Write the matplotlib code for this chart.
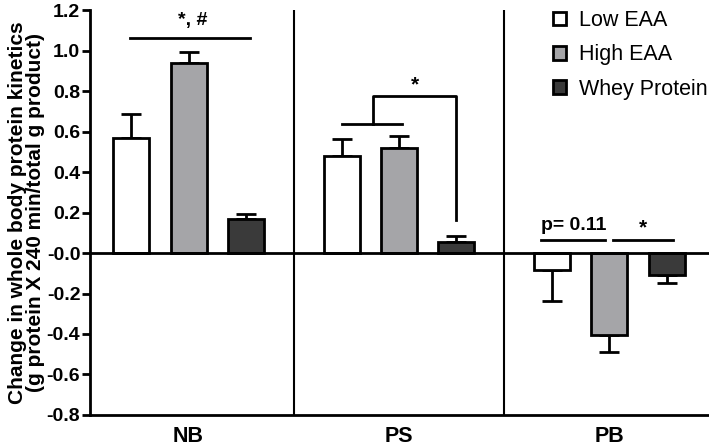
import numpy as np
import matplotlib.pyplot as plt
from matplotlib.patches import Patch

plt.rcParams['font.family'] = ['Liberation Sans', 'DejaVu Sans']

groups = ['NB', 'PS', 'PB']
series = ['Low EAA', 'High EAA', 'Whey Protein']
colors = ['#ffffff', '#a5a5a8', '#3a3a3a']

low_eaa = [0.570, 0.478, -0.083]
high_eaa = [0.940, 0.518, -0.404]
whey = [0.167, 0.055, -0.108]
low_err = [0.115, 0.085, 0.155]
high_err = [0.055, 0.060, 0.085]
whey_err = [0.025, 0.030, 0.040]

means = [low_eaa, high_eaa, whey]
errs = [low_err, high_err, whey_err]

x = np.arange(len(groups))
offsets = [-0.273, 0.0, 0.273]
width = 0.171

fig = plt.figure(figsize=(7.09, 4.47), dpi=100)
ax = fig.add_axes([0.127, 0.0716, 0.873, 0.906])

for i in range(3):
    m = np.array(means[i])
    e = np.array(errs[i])
    # error bars only point away from zero
    up = np.where(m >= 0, e, 0)
    dn = np.where(m < 0, e, 0)
    ax.errorbar(x + offsets[i], m, yerr=[dn, up], fmt='none', ecolor='black',
                elinewidth=2, capsize=7, capthick=2, zorder=2)
    ax.bar(x + offsets[i], m, width, color=colors[i], edgecolor='black',
           linewidth=2, zorder=3)

ax.axhline(0, color='black', lw=2, zorder=4)
for sep in [0.5, 1.5]:
    ax.axvline(sep, color='black', lw=1.5, zorder=1)

ax.set_xlim(-0.468, 2.473)
ax.set_ylim(-0.8, 1.2)
ax.set_yticks(np.arange(-0.8, 1.21, 0.2))
ax.set_yticklabels([f'{v:.1f}' for v in np.arange(-0.8, 1.21, 0.2)])
ax.set_xticks(x)
ax.set_xticklabels(groups, fontsize=15.5, fontweight='bold')
ax.tick_params(axis='x', length=0, pad=8)
ax.tick_params(axis='y', length=6, width=2, labelsize=14, pad=1)
for lbl in ax.get_yticklabels():
    lbl.set_fontweight('bold')
for s in ['top', 'right']:
    ax.spines[s].set_visible(False)
for s in ['left', 'bottom']:
    ax.spines[s].set_linewidth(2)

ax.set_ylabel('Change in whole body protein kinetics\n(g protein X 240 min/total g product)',
              fontsize=15, fontweight='bold', labelpad=1, linespacing=0.95)

# significance annotations
lw = 2
ax.plot([x[0] + offsets[0] - 0.005, x[0] + offsets[2] + 0.02], [1.064, 1.064], color='black', lw=lw)
ax.text(x[0] + 0.02, 1.105, '*, #', ha='center', va='bottom', fontsize=14, fontweight='bold')

ax.plot([x[1] + offsets[0] - 0.0, x[1] + offsets[1] + 0.015], [0.635, 0.635], color='black', lw=lw)
mid = x[1] - 0.125
ax.plot([mid, mid, x[1] + offsets[2], x[1] + offsets[2]], [0.635, 0.773, 0.773, 0.165],
        color='black', lw=lw)
ax.text((mid + x[1] + offsets[2]) / 2, 0.785, '*', ha='center', va='bottom', fontsize=15, fontweight='bold')

ax.plot([x[2] + offsets[0] - 0.05, x[2] - 0.02], [0.064, 0.064], color='black', lw=lw)
ax.plot([x[2] + 0.015, x[2] + offsets[2] + 0.03], [0.064, 0.064], color='black', lw=lw)
ax.text(x[2] - 0.17, 0.095, 'p= 0.11', ha='center', va='bottom', fontsize=14, fontweight='bold')
ax.text(x[2] + 0.16, 0.075, '*', ha='center', va='bottom', fontsize=15, fontweight='bold')

handles = [Patch(facecolor=c, edgecolor='black', linewidth=2) for c in colors]
ax.legend(handles, series, loc='upper left', bbox_to_anchor=(0.748, 1.0), frameon=False,
          borderaxespad=0, borderpad=0, fontsize=15.5, handlelength=0.6, handleheight=0.6,
          handletextpad=0.6, labelspacing=0.62)

fig.savefig('out.png', dpi=100)
